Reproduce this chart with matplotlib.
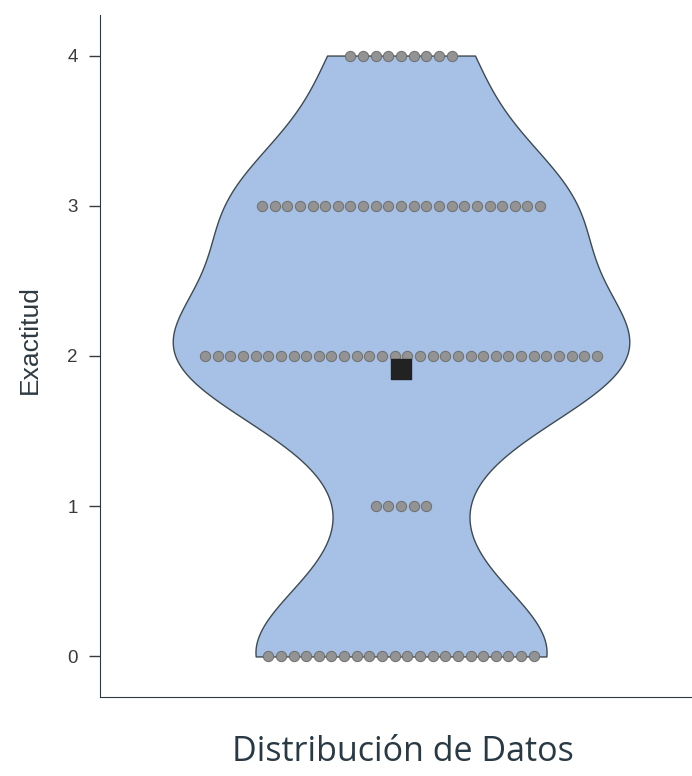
import numpy as np
import matplotlib
matplotlib.use("Agg")
import matplotlib.pyplot as plt

# distinct accuracy scores and how many observations have each
levels = [0, 1, 2, 3, 4]
counts = [22, 5, 32, 23, 9]
y_ticks = [0, 1, 2, 3, 4]
x_label = "Distribución de Datos"
y_label = "Exactitud"

values = np.repeat(levels, counts).astype(float)

fig = plt.figure(figsize=(6.92, 7.76), dpi=100)
ax = fig.add_axes([100 / 692, (776 - 697) / 776, 592 / 692, (697 - 15) / 776])

# violin, trimmed to the data range
parts = ax.violinplot([values], positions=[1], widths=0.91, bw_method=0.365,
                      showmeans=False, showextrema=False, showmedians=False,
                      points=400)
for body in parts["bodies"]:
    body.set_facecolor("#a7c1e6")
    body.set_edgecolor("#3d4a52")
    body.set_linewidth(1.0)
    body.set_alpha(1)
    body.set_zorder(1)

# centered dot stacks
step = 0.0252
for lev, n in zip(levels, counts):
    xs = 1 + (np.arange(n) - (n - 1) / 2) * step
    ax.scatter(xs, np.full(n, lev), s=55, color="#939393", edgecolor="#6e6e6e",
               linewidth=0.7, zorder=3)

# mean marker
ax.scatter([1], [values.mean()], marker="s", s=190, color="#222222", zorder=4)

ax.set_xlim(0.4, 1.58)
ax.set_ylim(-0.27, 4.27)
ax.set_xticks([])
ax.set_yticks(y_ticks)
ax.tick_params(axis="y", labelsize=13.5, colors="#3a3a3a", length=8, width=1, pad=8)
for lbl in ax.get_yticklabels():
    lbl.set_family("Liberation Sans")
ax.spines["top"].set_visible(False)
ax.spines["right"].set_visible(False)
ax.spines["left"].set_color("#2e3a42")
ax.spines["bottom"].set_color("#2e3a42")

fig.text(30 / 692, 1 - 340 / 776, y_label, fontsize=19, color="#2e3a42",
         family="Liberation Sans", rotation=90, ha="center", va="center")
fig.text(403 / 692, 1 - 752 / 776, x_label, fontsize=24.5, color="#2a3a45",
         family="Open Sans", ha="center", va="center")

fig.savefig("out.png", dpi=100)
